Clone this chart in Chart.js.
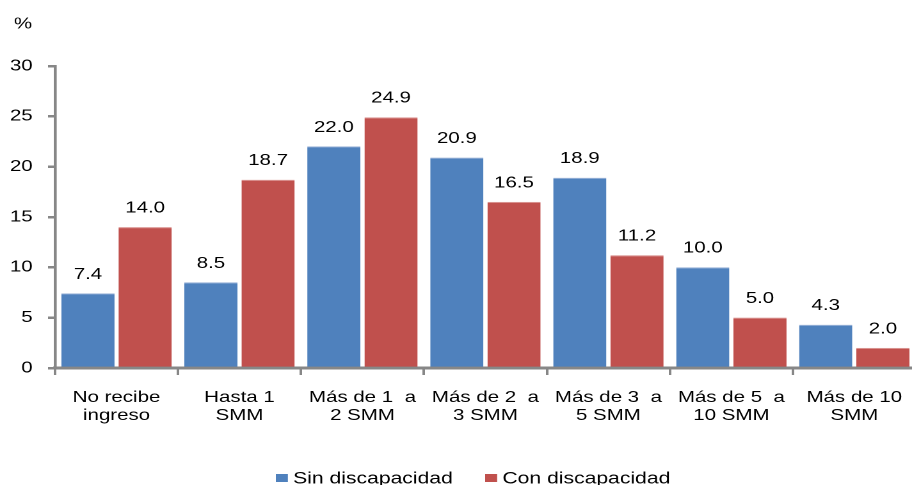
<!DOCTYPE html>
<html>
<head>
<meta charset="utf-8">
<script src="https://cdn.jsdelivr.net/npm/chart.js@4.4.1/dist/chart.umd.min.js"></script>
<style>
  html, body { margin: 0; padding: 0; background: #fff; overflow: hidden; width: 912px; height: 485px; }
  /* the chart is laid out narrow and widened, which gives the broad lettering */
  #wrap { width: 719px; height: 485px; position: absolute; left: 0; top: 0;
          transform: scaleX(1.28); transform-origin: 0 0; }
</style>
</head>
<body>
<div id="wrap"><canvas id="c"></canvas></div>
<script>
// Income brackets (in SMM) and share of population, by disability status
const categories = [
  ["No recibe", "ingreso"],
  ["Hasta 1", "SMM"],
  ["Más de 1  a", "2 SMM"],
  ["Más de 2  a", "3 SMM"],
  ["Más de 3  a", "5 SMM"],
  ["Más de 5  a", "10 SMM"],
  ["Más de 10", "SMM"]
];
const sinDiscapacidad = [7.4, 8.5, 22.0, 20.9, 18.9, 10.0, 4.3];
const conDiscapacidad = [14.0, 18.7, 24.9, 16.5, 11.2, 5.0, 2.0];
const yTicks = [0, 5, 10, 15, 20, 25, 30];

const FONT = "'Liberation Sans', Arial, sans-serif";
const AXIS = '#878787';

// Value labels above each bar, the "%" unit caption and the bottom legend
const labelsPlugin = {
  id: 'valueLabels',
  afterDatasetsDraw(chart) {
    const ctx = chart.ctx;
    ctx.save();
    ctx.fillStyle = '#000';
    ctx.font = '16px ' + FONT;
    ctx.textAlign = 'center';
    ctx.textBaseline = 'bottom';
    chart.data.datasets.forEach((ds, i) => {
      chart.getDatasetMeta(i).data.forEach((bar, j) => {
        ctx.fillText(ds.data[j].toFixed(1), bar.x, bar.y - 11);
      });
    });
    const a = chart.chartArea;
    ctx.textBaseline = 'middle';
    ctx.fillText('%', a.left - 25, a.top - 42);

    // legend: colour box + dataset label, two entries side by side
    const legendX = [215.5, 379];
    const cy = 479;
    ctx.textAlign = 'left';
    ctx.font = '16.5px ' + FONT;
    chart.data.datasets.forEach((ds, i) => {
      const x = legendX[i];
      ctx.fillStyle = ds.backgroundColor;
      ctx.fillRect(x, cy - 5, 9.4, 8);
      ctx.fillStyle = '#000';
      ctx.fillText(ds.label, x + 13.5, cy);
    });
    ctx.restore();
  }
};

new Chart(document.getElementById('c'), {
  type: 'bar',
  data: {
    labels: categories,
    datasets: [
      { label: 'Sin discapacidad', data: sinDiscapacidad, backgroundColor: '#4F81BD',
        borderColor: '#8EAAD3', borderWidth: { top: 1, left: 0, right: 0, bottom: 0 }, borderSkipped: 'bottom',
        categoryPercentage: 0.93, barPercentage: 0.93 },
      { label: 'Con discapacidad', data: conDiscapacidad, backgroundColor: '#C0504D',
        borderColor: '#D88E8C', borderWidth: { top: 1, left: 0, right: 0, bottom: 0 }, borderSkipped: 'bottom',
        categoryPercentage: 0.93, barPercentage: 0.93 }
    ]
  },
  options: {
    responsive: true,
    maintainAspectRatio: false,
    animation: false,
    devicePixelRatio: 2,
    layout: { padding: { top: 66, bottom: 24, left: 0, right: 3 } },
    plugins: {
      legend: { display: false },
      tooltip: { enabled: false }
    },
    scales: {
      x: {
        offset: true,
        grid: { offset: true, drawOnChartArea: false, drawTicks: true, tickLength: 7, color: AXIS, lineWidth: 2 },
        border: { color: AXIS, width: 3 },
        ticks: { color: '#000', font: { family: FONT, size: 16, lineHeight: 1.1 }, padding: 14, maxRotation: 0, autoSkip: false },
        afterFit(s) { s.height = 93; }
      },
      y: {
        min: 0, max: 30,
        afterBuildTicks(s) { s.ticks = yTicks.map(v => ({ value: v })); },
        grid: { drawOnChartArea: false, drawTicks: true, tickLength: 5.5, color: AXIS, lineWidth: 2.5 },
        border: { color: AXIS, width: 2.3 },
        ticks: { color: '#000', font: { family: FONT, size: 16 }, padding: 12 },
        afterFit(s) { s.width = 43; }
      }
    }
  },
  plugins: [labelsPlugin]
});
</script>
</body>
</html>
